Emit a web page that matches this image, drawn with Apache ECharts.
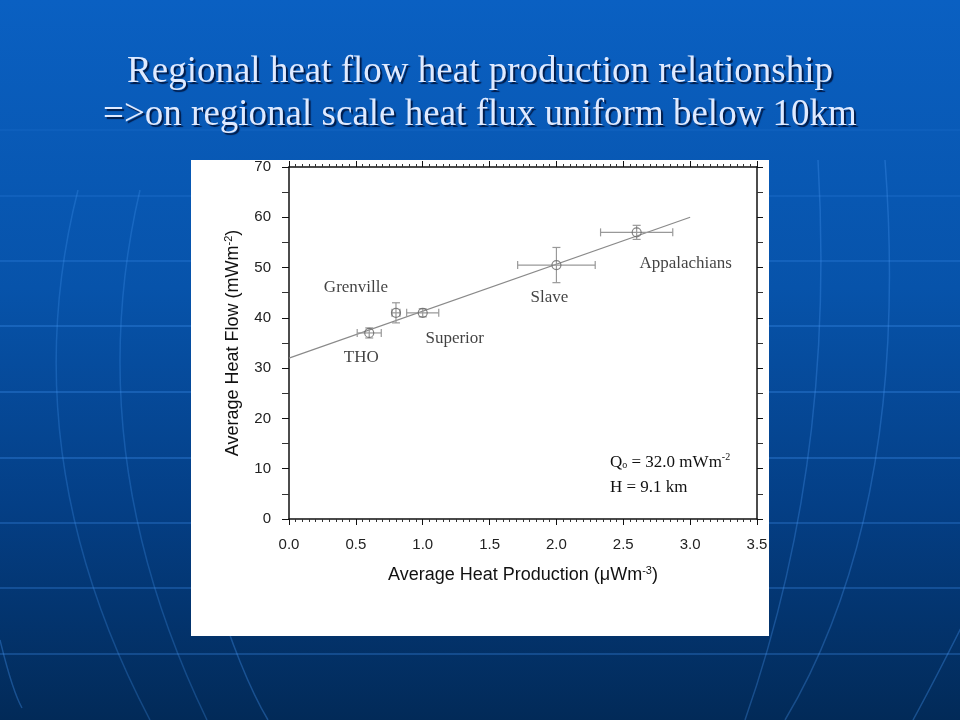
<!DOCTYPE html>
<html>
<head>
<meta charset="utf-8">
<script src="https://cdn.jsdelivr.net/npm/echarts@6/dist/echarts.min.js"></script>
<style>html,body{margin:0;padding:0;width:960px;height:720px;overflow:hidden}#c{width:960px;height:720px}</style>
</head>
<body>
<div id="c"></div>
<script>
// ---- data ----
var regions = ['THO', 'Grenville', 'Superior', 'Slave', 'Appalachians'];
var heatProduction = [0.6, 0.8, 1.0, 2.0, 2.6];
var heatFlow = [37, 41, 41, 50.5, 57];
var productionErr = [0.09, 0.03, 0.12, 0.29, 0.27];
var flowErr = [1.0, 2.0, 0.8, 3.5, 1.4];
var fitX = [0, 3.0];
var fitY = [32, 60];
var xTicks = ['0.0', '0.5', '1.0', '1.5', '2.0', '2.5', '3.0', '3.5'];
var yTicks = [0, 10, 20, 30, 40, 50, 60, 70];

// label offsets (style)
var labelOffsets = [[-8, 25], [-40, -25], [32, 26], [-7, 32], [49, 31]];

var chart = echarts.init(document.getElementById('c'), null, {renderer: 'canvas'});

var pts = regions.map(function (r, i) {
  return {
    name: r,
    value: [heatProduction[i], heatFlow[i]],
    label: {offset: labelOffsets[i]}
  };
});
var errData = regions.map(function (r, i) {
  return [heatProduction[i], heatFlow[i], productionErr[i], flowErr[i]];
});
var fitData = fitX.map(function (x, i) { return [x, fitY[i]]; });

function hline(y, a) {
  return {type: 'line', shape: {x1: 0, y1: y, x2: 960, y2: y}, style: {stroke: 'rgba(60,140,235,' + a + ')', lineWidth: 1.5}, z: -20, silent: true};
}
function curve(x1, y1, c1x, c1y, c2x, c2y, x2, y2, a) {
  return {type: 'bezierCurve', shape: {x1: x1, y1: y1, cpx1: c1x, cpy1: c1y, cpx2: c2x, cpy2: c2y, x2: x2, y2: y2}, style: {stroke: 'rgba(70,150,240,' + a + ')', lineWidth: 1.5, fill: null}, z: -20, silent: true};
}

var axisFont = {fontFamily: 'Liberation Sans, Arial, sans-serif', fontSize: 15, color: '#222'};

var option = {
  backgroundColor: {
    type: 'linear', x: 0, y: 0, x2: 0, y2: 1,
    colorStops: [{offset: 0, color: '#0a60c2'}, {offset: 0.4, color: '#0753aa'}, {offset: 0.7, color: '#043f86'}, {offset: 1, color: '#022a58'}]
  },
  title: {
    text: 'Regional heat flow heat production relationship\n=>on regional scale heat flux uniform below 10km',
    left: 'center',
    top: 46,
    textStyle: {
      fontFamily: 'Liberation Serif, Times New Roman, serif',
      fontWeight: 'normal',
      fontSize: 37,
      lineHeight: 43,
      color: '#dfeaff',
      textShadowColor: 'rgba(0,20,60,0.9)',
      textShadowOffsetX: 2,
      textShadowOffsetY: 2,
      textShadowBlur: 1
    }
  },
  graphic: [
    hline(130, 0.15), hline(196, 0.25), hline(261, 0.35), hline(326, 0.45), hline(392, 0.45), hline(458, 0.45), hline(523, 0.4), hline(588, 0.4), hline(654, 0.4),
    curve(78, 190, 40, 340, 45, 520, 150, 720, 0.28),
    curve(140, 190, 105, 340, 110, 520, 207, 720, 0.28),
    curve(215, 590, 230, 640, 250, 690, 268, 720, 0.35),
    curve(0, 640, 5, 660, 12, 690, 22, 708, 0.35),
    curve(818, 160, 828, 330, 815, 520, 745, 720, 0.32),
    curve(885, 160, 900, 360, 880, 560, 785, 720, 0.32),
    curve(975, 600, 955, 640, 935, 680, 913, 720, 0.35),
    {type: 'rect', shape: {x: 191, y: 160, width: 578, height: 476}, style: {fill: '#ffffff'}, z: -10, silent: true},
    {
      type: 'text', left: 610, top: 452, z: 10,
      style: {
        text: '{n|Q}{sub|o}{n| = 32.0 mWm}{sup|-2}',
        rich: {
          n: {fontFamily: 'Liberation Serif, serif', fontSize: 17, fill: '#111', verticalAlign: 'bottom'},
          sub: {fontFamily: 'Liberation Serif, serif', fontSize: 10, fill: '#111', padding: [7, 0, 0, 0]},
          sup: {fontFamily: 'Liberation Serif, serif', fontSize: 10, fill: '#111', padding: [0, 0, 9, 0]}
        }
      }
    },
    {
      type: 'text', left: 610, top: 479, z: 10,
      style: {text: 'H = 9.1 km', font: '17px Liberation Serif, serif', fill: '#111'}
    }
  ],
  grid: {left: 289, right: 203, top: 167, bottom: 201, containLabel: false},
  xAxis: [{
    type: 'value', min: 0, max: 3.5, interval: 0.5,
    name: '{a|Average Heat Production (μWm}{s|-3}{a|)}',
    nameLocation: 'middle', nameGap: 46,
    nameTextStyle: {
      rich: {
        a: {fontFamily: 'Liberation Sans, Arial, sans-serif', fontSize: 18, color: '#111'},
        s: {fontFamily: 'Liberation Sans, Arial, sans-serif', fontSize: 11, color: '#111', padding: [0, 0, 9, 0]}
      }
    },
    axisLine: {show: true, onZero: false, lineStyle: {color: '#111', width: 1.5}},
    axisTick: {show: true, inside: false, length: 6, lineStyle: {color: '#111'}},
    minorTick: {show: true, splitNumber: 10, length: 3, lineStyle: {color: '#333'}},
    splitLine: {show: false},
    axisLabel: Object.assign({margin: 18, formatter: function (v) { return xTicks[Math.round(v / 0.5)]; }}, axisFont)
  }, {
    type: 'value', position: 'top', min: 0, max: 3.5, interval: 0.5,
    axisLine: {show: true, onZero: false, lineStyle: {color: '#111', width: 1.5}},
    axisTick: {show: true, inside: false, length: 6, lineStyle: {color: '#111'}},
    minorTick: {show: true, splitNumber: 10, length: 3, lineStyle: {color: '#333'}},
    splitLine: {show: false},
    axisLabel: {show: false}
  }],
  yAxis: [{
    type: 'value', min: 0, max: 70, interval: 10,
    name: '{a|Average Heat Flow (mWm}{s|-2}{a|)}',
    nameLocation: 'middle', nameGap: 46,
    nameTextStyle: {
      rich: {
        a: {fontFamily: 'Liberation Sans, Arial, sans-serif', fontSize: 18, color: '#111'},
        s: {fontFamily: 'Liberation Sans, Arial, sans-serif', fontSize: 11, color: '#111', padding: [0, 0, 9, 0]}
      }
    },
    axisLine: {show: true, onZero: false, lineStyle: {color: '#111', width: 1.5}},
    axisTick: {show: true, inside: false, length: 7, lineStyle: {color: '#111'}},
    minorTick: {show: true, splitNumber: 2, length: 7, lineStyle: {color: '#333'}},
    splitLine: {show: false},
    axisLabel: Object.assign({margin: 18, formatter: function (v) { return String(yTicks[Math.round(v / 10)]); }}, axisFont)
  }, {
    type: 'value', position: 'right', min: 0, max: 70, interval: 10,
    axisLine: {show: true, onZero: false, lineStyle: {color: '#111', width: 1.5}},
    axisTick: {show: true, inside: false, length: 6, lineStyle: {color: '#111'}},
    minorTick: {show: true, splitNumber: 2, length: 6, lineStyle: {color: '#333'}},
    splitLine: {show: false},
    axisLabel: {show: false}
  }],
  series: [{
    type: 'line',
    data: fitData,
    symbol: 'none',
    lineStyle: {color: '#8a8a8a', width: 1.2},
    silent: true, z: 2
  }, {
    type: 'custom',
    data: errData,
    z: 3,
    renderItem: function (params, api) {
      var x = api.value(0), y = api.value(1), ex = api.value(2), ey = api.value(3);
      var l = api.coord([x - ex, y]), r = api.coord([x + ex, y]);
      var t = api.coord([x, y + ey]), b = api.coord([x, y - ey]);
      var cap = 4;
      var st = {stroke: '#999', lineWidth: 1.2};
      return {
        type: 'group',
        children: [
          {type: 'line', shape: {x1: l[0], y1: l[1], x2: r[0], y2: r[1]}, style: st},
          {type: 'line', shape: {x1: l[0], y1: l[1] - cap, x2: l[0], y2: l[1] + cap}, style: st},
          {type: 'line', shape: {x1: r[0], y1: r[1] - cap, x2: r[0], y2: r[1] + cap}, style: st},
          {type: 'line', shape: {x1: t[0], y1: t[1], x2: b[0], y2: b[1]}, style: st},
          {type: 'line', shape: {x1: t[0] - cap, y1: t[1], x2: t[0] + cap, y2: t[1]}, style: st},
          {type: 'line', shape: {x1: b[0] - cap, y1: b[1], x2: b[0] + cap, y2: b[1]}, style: st}
        ]
      };
    }
  }, {
    type: 'scatter',
    data: pts,
    symbol: 'circle',
    symbolSize: 9,
    z: 4,
    itemStyle: {color: 'rgba(255,255,255,0)', borderColor: '#666', borderWidth: 1.2},
    label: {
      show: true, position: 'inside',
      formatter: '{b}',
      fontFamily: 'Liberation Serif, Times New Roman, serif',
      fontSize: 17, color: '#111'
    }
  }]
};
chart.setOption(option);
</script>
</body>
</html>
